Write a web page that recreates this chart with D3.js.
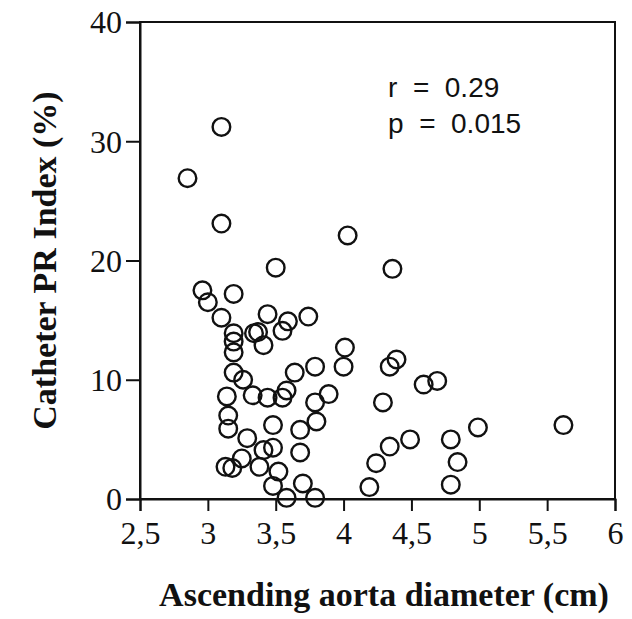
<!DOCTYPE html>
<html>
<head>
<meta charset="utf-8">
<script src="https://cdn.jsdelivr.net/npm/d3@7"></script>
<style>
  body { margin: 0; background: #fff; }
  svg { display: block; }
</style>
</head>
<body>
<div id="chart"></div>
<script>
// Ascending aorta diameter (cm) vs catheter PR index (%)
const diameter = [
  2.85, 3.10, 3.10, 4.03, 3.50, 4.36, 2.96, 3.00, 3.19, 3.10,
  3.44, 3.59, 3.74, 3.19, 3.19, 3.19, 3.37, 3.34, 3.41, 3.55,
  4.01, 4.00, 3.79, 3.64, 3.19, 3.26, 3.58, 3.14, 3.33, 3.44,
  3.55, 3.89, 3.79, 3.15, 3.15, 3.48, 3.80, 3.68, 3.29, 3.48,
  3.41, 3.68, 3.25, 3.13, 3.18, 3.38, 3.52, 3.48, 3.70, 3.58,
  3.79, 4.29, 4.34, 4.24, 4.19, 4.39, 4.34, 4.59, 4.69, 4.99,
  5.62, 4.49, 4.79, 4.84, 4.79
];
const prIndex = [
  26.9, 31.2, 23.1, 22.1, 19.4, 19.3, 17.5, 16.5, 17.2, 15.2,
  15.5, 14.9, 15.3, 13.9, 13.2, 12.3, 14.0, 13.9, 12.9, 14.1,
  12.7, 11.1, 11.1, 10.6, 10.6, 10.0, 9.1, 8.6, 8.7, 8.5,
  8.5, 8.8, 8.1, 7.0, 5.9, 6.2, 6.5, 5.8, 5.1, 4.3,
  4.1, 3.9, 3.4, 2.7, 2.6, 2.7, 2.3, 1.1, 1.3, 0.1,
  0.1, 8.1, 4.4, 3.0, 1.0, 11.7, 11.1, 9.6, 9.9, 6.0,
  6.2, 5.0, 5.0, 3.1, 1.2
];
const xTicks = [2.5, 3, 3.5, 4, 4.5, 5, 5.5, 6];
const yTicks = [0, 10, 20, 30, 40];
const statLines = ["r  =  0.29", "p  =  0.015"];

const W = 632, H = 619;
const margin = {top: 22, right: 17, bottom: 120, left: 140};
const width = W - margin.left - margin.right;
const height = H - margin.top - margin.bottom;

const svg = d3.select("#chart").append("svg")
  .attr("width", W)
  .attr("height", H);

const g = svg.append("g")
  .attr("transform", `translate(${margin.left},${margin.top})`);

const x = d3.scaleLinear().domain([2.5, 6]).range([0, width]);
const y = d3.scaleLinear().domain([0, 40]).range([height, 0]);

const serif = "'Liberation Serif', 'Times New Roman', serif";

// frame
g.append("rect")
  .attr("x", 0).attr("y", 0)
  .attr("width", width).attr("height", height)
  .attr("fill", "none")
  .attr("stroke", "#111")
  .attr("stroke-width", 2);

const xAxis = g.append("g")
  .attr("transform", `translate(0,${height})`)
  .call(d3.axisBottom(x)
    .tickValues(xTicks)
    .tickSize(12)
    .tickPadding(10)
    .tickFormat(d => String(d).replace(".", ",")));

const yAxis = g.append("g")
  .call(d3.axisLeft(y)
    .tickValues(yTicks)
    .tickSize(14)
    .tickPadding(4));

[xAxis, yAxis].forEach(ax => {
  ax.select(".domain").attr("stroke", "#111").attr("stroke-width", 2);
  ax.selectAll(".tick line").attr("stroke", "#111").attr("stroke-width", 2);
  ax.selectAll(".tick text")
    .attr("fill", "#111")
    .style("font-family", serif)
    .style("font-size", "32px");
});
yAxis.selectAll(".tick text").attr("dy", "0.34em");

// points
g.append("g").selectAll("circle")
  .data(diameter.map((d, i) => ({x: d, y: prIndex[i]})))
  .join("circle")
  .attr("cx", d => x(d.x))
  .attr("cy", d => y(d.y))
  .attr("r", 8.8)
  .attr("fill", "none")
  .attr("stroke", "#111")
  .attr("stroke-width", 2.4);

// stats
g.append("g").selectAll("text")
  .data(statLines)
  .join("text")
  .attr("x", 388 - margin.left)
  .attr("y", (d, i) => 97 - margin.top + i * 36)
  .style("font-family", "'Liberation Sans', Arial, sans-serif")
  .style("font-size", "28px")
  .style("white-space", "pre")
  .attr("fill", "#111")
  .text(d => d);

// axis titles
svg.append("text")
  .attr("x", 384)
  .attr("y", 606)
  .attr("text-anchor", "middle")
  .style("font-family", serif)
  .style("font-weight", "bold")
  .style("font-size", "34px")
  .attr("fill", "#111")
  .text("Ascending aorta diameter (cm)");

svg.append("text")
  .attr("transform", `translate(56,${margin.top + height / 2}) rotate(-90)`)
  .attr("text-anchor", "middle")
  .style("font-family", serif)
  .style("font-weight", "bold")
  .style("font-size", "34px")
  .attr("fill", "#111")
  .text("Catheter PR Index (%)");
</script>
</body>
</html>
